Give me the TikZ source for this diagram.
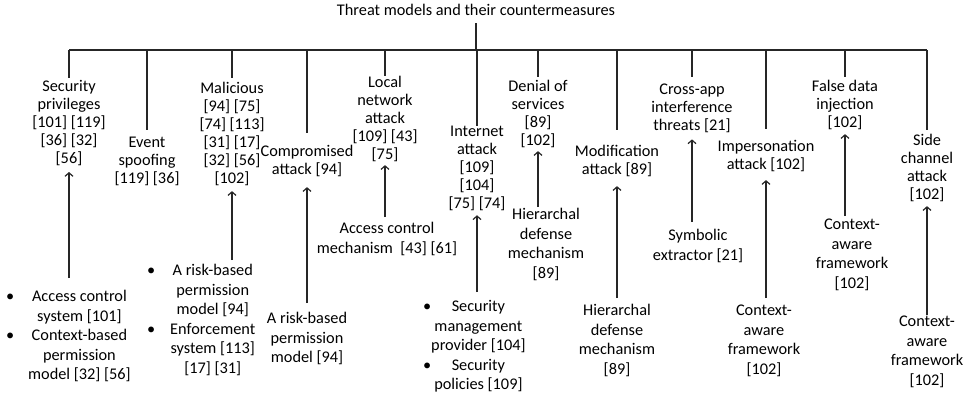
\documentclass[tikz,border=0pt]{standalone}
\usepackage{fontspec}
\setmainfont{Carlito}
\usetikzlibrary{arrows.meta}
\newcommand{\mybul}{\makebox[8pt]{•}}
\begin{document}
\begin{tikzpicture}[x=1pt,y=-1pt,
 thrbox/.style={align=center,inner sep=0pt,anchor=north,font=\fontsize{16.3}{18}\selectfont,execute at begin node=\strut},
 cmbox/.style={align=center,inner sep=0pt,anchor=north,font=\fontsize{16.3}{19.5}\selectfont,execute at begin node=\strut},
 blst/.style={inner sep=0pt,anchor=north west,font=\fontsize{16.3}{19.5}\selectfont},
 ln/.style={line width=1.2pt,draw=black!85},
 arr/.style={ln,-{Straight Barb[length=3.5pt,width=8pt]}}]
\useasboundingbox (0,0) rectangle (966,399);
\node[thrbox,anchor=center] (title) at (476,12) {Threat models and their countermeasures};
\coordinate (busL) at (69,50);
\coordinate (busR) at (927,50);
% threats
\node[thrbox] (t1) at (69,80) {Security\\privileges\\{}[101] [119]\\{}[36] [32]\\{}[56]};
\node[thrbox] (t2) at (147,137) {Event\\spoofing\\{}[119] [36]};
\node[thrbox] (t3) at (232,82) {Malicious\\{}[94] [75]\\{}[74] [113]\\{}[31] [17]\\{}[32] [56]\\{}[102]};
\node[thrbox] (t4) at (307,145) {Compromised\\attack [94]};
\node[thrbox] (t5) at (385,76) {Local\\network\\attack\\{}[109] [43]\\{}[75]};
\node[thrbox] (t6) at (477,126) {Internet\\attack\\{}[109]\\{}[104]\\{}[75] [74]};
\node[thrbox] (t7) at (538,80) {Denial of\\services\\{}[89]\\{}[102]};
\node[thrbox] (t8) at (617,145) {Modification\\attack [89]};
\node[thrbox] (t9) at (692,84) {Cross-app\\interference\\threats [21]};
\node[thrbox] (t10) at (766,140) {Impersonation\\attack [102]};
\node[thrbox] (t11) at (845,80) {False data\\injection\\{}[102]};
\node[thrbox] (t12) at (927,134) {Side\\channel\\attack\\{}[102]};
% countermeasures
\node[blst] (c1) at (6,288) {\begin{tabular}{@{}l@{\hspace{14pt}}c@{}}\mybul & Access control\\ & system [101]\\ \mybul & Context-based\\ & permission\\ & model [32] [56]\end{tabular}};
\node[blst] (c3) at (147,262) {\begin{tabular}{@{}l@{\hspace{15pt}}c@{}}\mybul & A risk-based\\ & permission\\ & model [94]\\ \mybul & Enforcement\\ & system [113]\\ & {}[17] [31]\end{tabular}};
\node[cmbox] (c4) at (307,312) {A risk-based\\permission\\model [94]};
\node[cmbox] (c5) at (387,222) {Access control\\mechanism\ \ [43] [61]};
\node[blst] (c6) at (423,298) {\begin{tabular}{@{}l@{\hspace{0pt}}c@{}}\mybul & Security\\ & management\\ & provider [104]\\ \mybul & Security\\ & policies [109]\end{tabular}};
\node[cmbox] (c7) at (546,208) {Hierarchal\\defense\\mechanism\\{}[89]};
\node[cmbox] (c8) at (617,304) {Hierarchal\\defense\\mechanism\\{}[89]};
\node[cmbox] (c9) at (698,229) {Symbolic\\extractor [21]};
\node[cmbox] (c10) at (764,305) {Context-\\aware\\framework\\{}[102]};
\node[cmbox] (c11) at (852,219) {Context-\\aware\\framework\\{}[102]};
\node[cmbox] (c12) at (927,316) {Context-\\aware\\framework\\{}[102]};
% tree lines
\draw[ln,shorten <=2pt] (title.south) -- (title.south |- busL);
\draw[ln] (busL) -- (busR);
\draw[ln,shorten >=2pt] (t1.north |- busL) -- (t1.north);
\draw[ln,shorten >=7pt] (t2.north |- busL) -- (t2.north);
\draw[ln,shorten >=4pt] (t3.north |- busL) -- (t3.north);
\draw[ln,shorten >=12pt] (t4.north |- busL) -- (t4.north);
\draw[ln] (t5.north |- busL) -- (t5.north);
\draw[ln] (t6.north |- busL) -- (t6.north);
\draw[ln,shorten >=3pt] (t7.north |- busL) -- (t7.north);
\draw[ln,shorten >=15pt] (t8.north |- busL) -- (t8.north);
\draw[ln,shorten >=7pt] (t9.north |- busL) -- (t9.north);
\draw[ln,shorten >=11pt] (t10.north |- busL) -- (t10.north);
\draw[ln,shorten >=3pt] (t11.north |- busL) -- (t11.north);
\draw[ln,shorten >=4pt] (t12.north |- busL) -- (t12.north);
% arrows
\draw[arr,shorten <=10pt,shorten >=3pt] (c1.north -| t1.south) -- (t1.south);
\draw[arr,shorten <=2pt,shorten >=2pt] (c3.north -| t3.south) -- (t3.south);
\draw[arr,shorten <=9pt,shorten >=7pt] (c4.north -| t4.south) -- (t4.south);
\draw[arr,shorten <=5pt,shorten >=0pt] (c5.north -| t5.south) -- (t5.south);
\draw[arr,shorten <=6pt,shorten >=1pt] (c6.north -| t6.south) -- (t6.south);
\draw[arr,shorten <=1pt,shorten >=0pt] (c7.north -| t7.south) -- (t7.south);
\draw[arr,shorten <=6pt,shorten >=6pt] (c8.north -| t8.south) -- (t8.south);
\draw[arr,shorten <=7pt,shorten >=3pt] (c9.north -| t9.south) -- (t9.south);
\draw[arr,shorten <=7pt,shorten >=5pt] (c10.north -| t10.south) -- (t10.south);
\draw[arr,shorten <=3pt,shorten >=1pt] (c11.north -| t11.south) -- (t11.south);
\draw[arr,shorten <=1pt,shorten >=1pt] (c12.north -| t12.south) -- (t12.south);
\end{tikzpicture}
\end{document}
